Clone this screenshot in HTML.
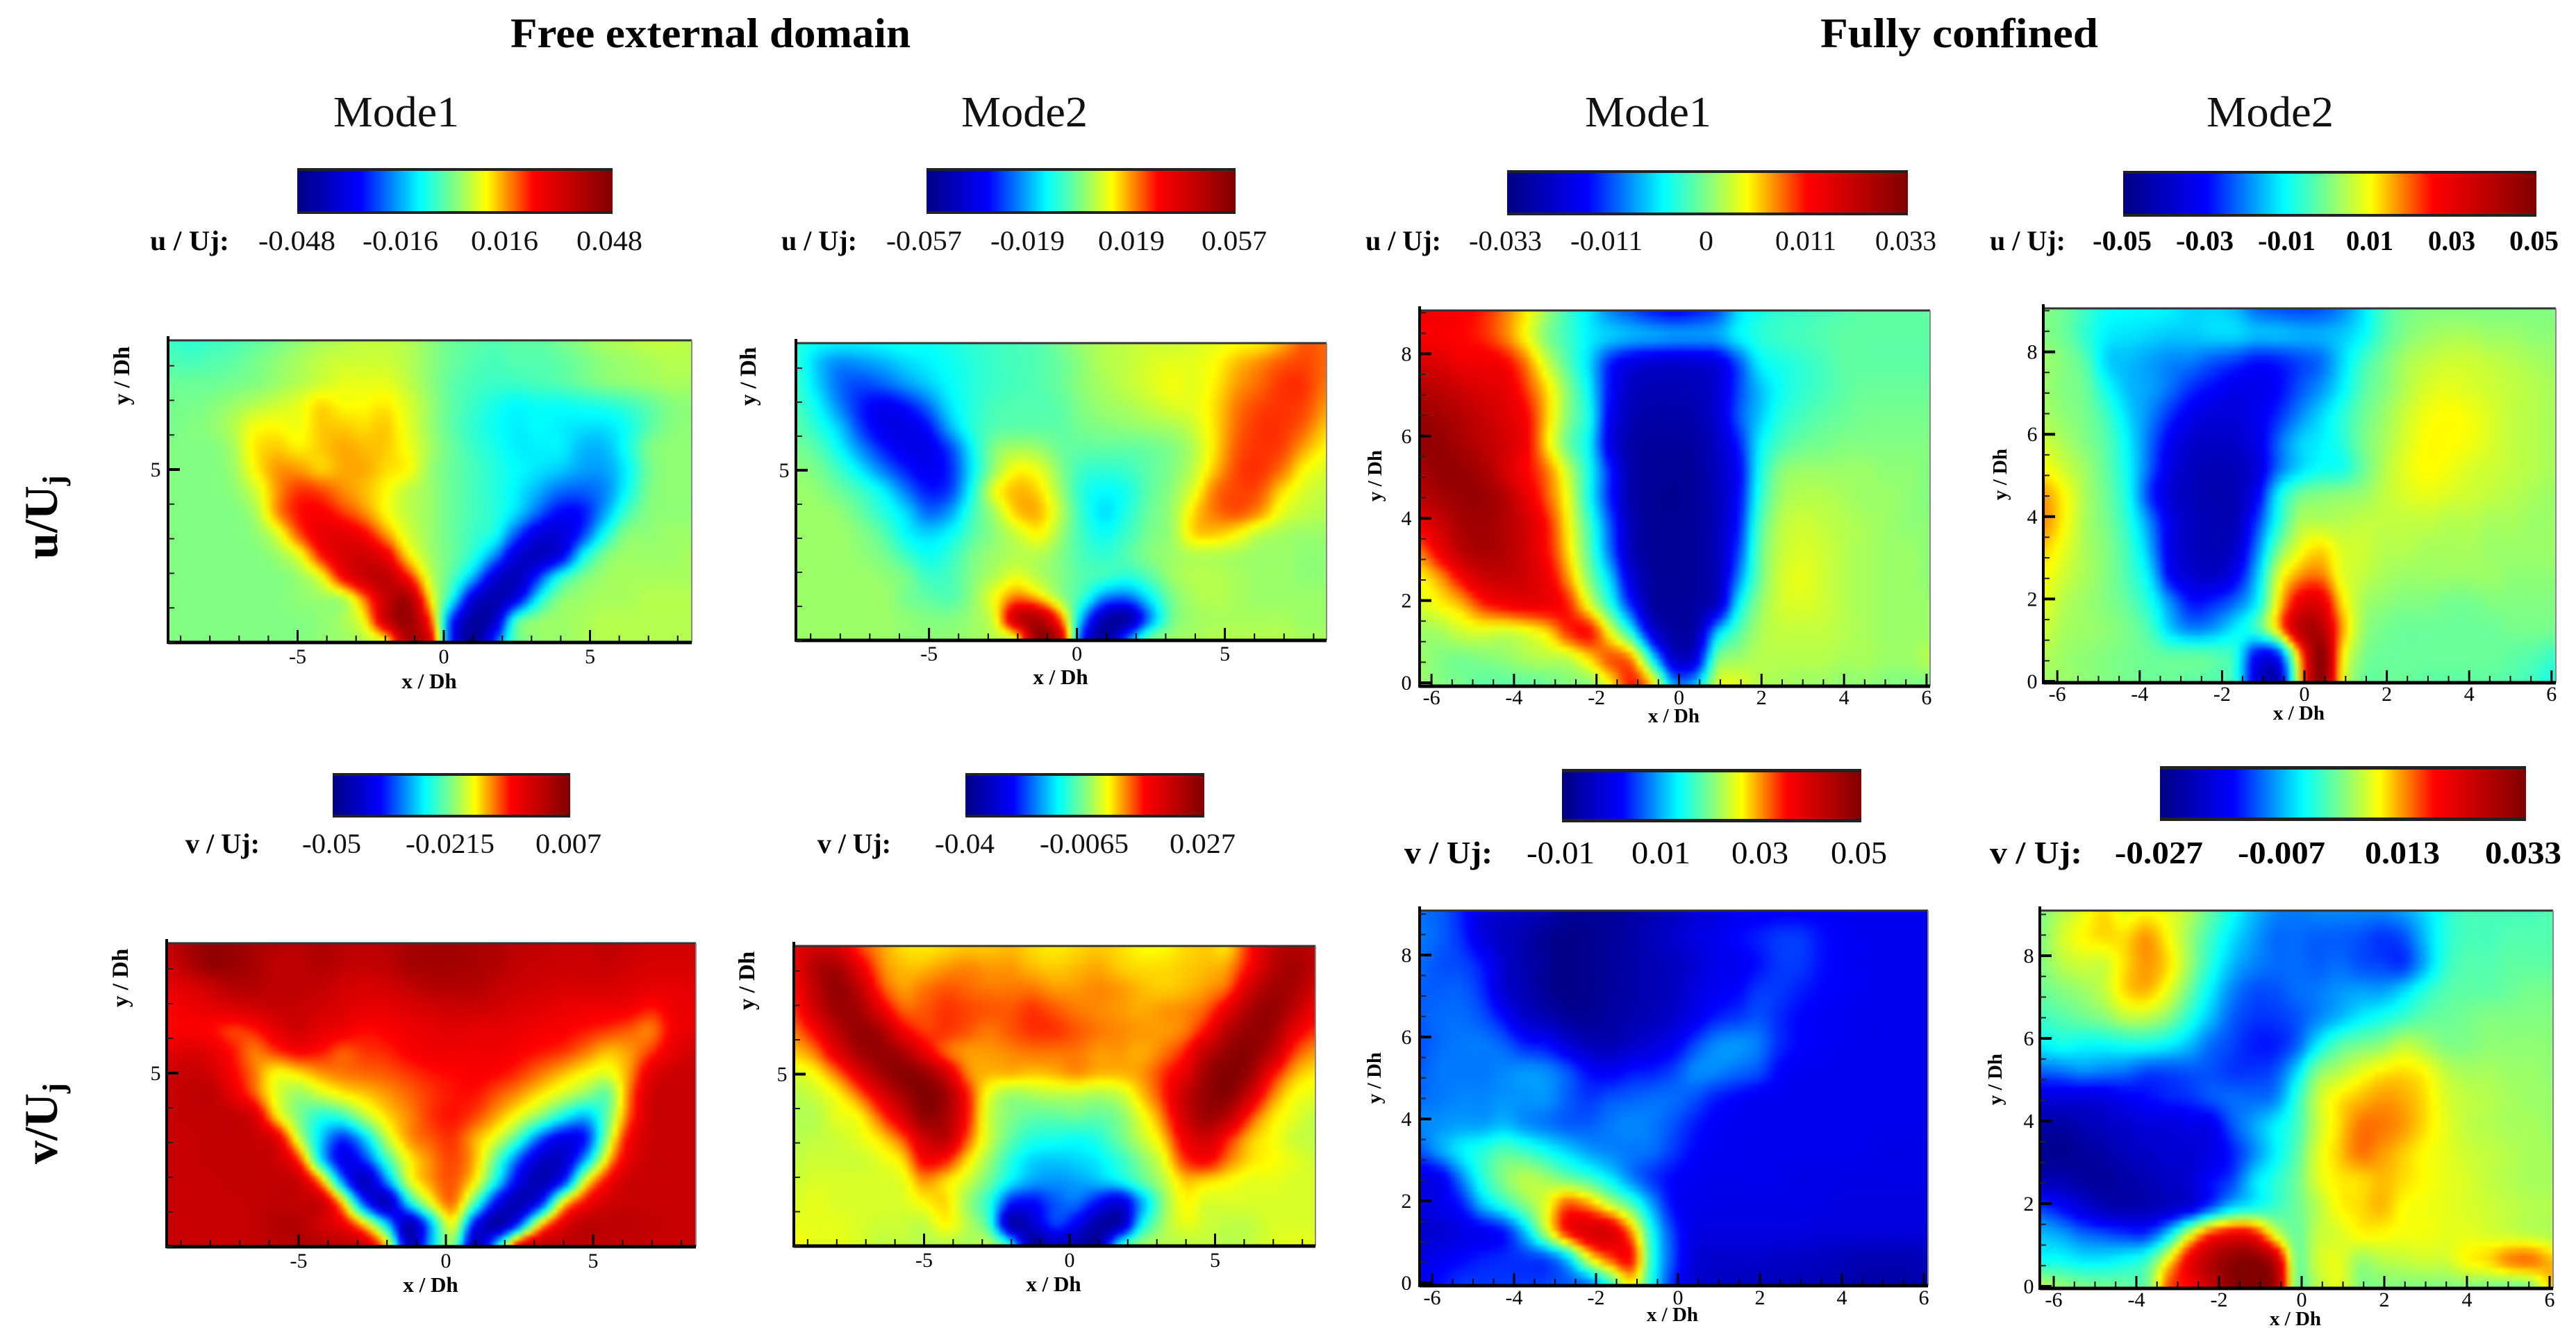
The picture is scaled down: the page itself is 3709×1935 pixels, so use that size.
<!DOCTYPE html>
<html lang="en">
<head>
<meta charset="utf-8">
<title>POD modes: free external domain and fully confined</title>
<style>
html,body{margin:0;padding:0;background:#fff;width:3709px;height:1935px;overflow:hidden}
svg{display:block}
text{font-family:"Liberation Serif","DejaVu Serif",serif;fill:#000}
.head{font-weight:bold;font-size:60px}
.mode{font-size:62px;fill:#111}
.cb{font-size:40px;fill:#111}
.cbb{font-size:40px;font-weight:bold}
.row{font-size:68px;font-weight:bold}
</style>
</head>
<body>
<svg id="figure" xmlns="http://www.w3.org/2000/svg" width="3709" height="1935" viewBox="0 0 3709 1935">
<defs>
<linearGradient id="jet" x1="0" x2="1" y1="0" y2="0">
<stop offset="0" stop-color="#000082"/><stop offset=".2" stop-color="#0000ff"/><stop offset=".39" stop-color="#00ffff"/><stop offset=".5" stop-color="#82ff82"/><stop offset=".6" stop-color="#ffff00"/><stop offset=".75" stop-color="#ff0000"/><stop offset="1" stop-color="#800000"/>
</linearGradient>
<filter id="soften" color-interpolation-filters="sRGB"><feGaussianBlur stdDeviation="3"/></filter>
</defs>

<text class="head" x="735" y="68" textLength="576" lengthAdjust="spacingAndGlyphs">Free external domain</text>
<text class="head" x="2621" y="68" textLength="400" lengthAdjust="spacingAndGlyphs">Fully confined</text>
<text class="mode" x="480" y="182" textLength="181" lengthAdjust="spacingAndGlyphs">Mode1</text>
<text class="mode" x="1384" y="182" textLength="182" lengthAdjust="spacingAndGlyphs">Mode2</text>
<text class="mode" x="2282" y="182" textLength="182" lengthAdjust="spacingAndGlyphs">Mode1</text>
<text class="mode" x="3177" y="182" textLength="183" lengthAdjust="spacingAndGlyphs">Mode2</text>

<text class="row" transform="translate(82,805) rotate(-90)">u/U<tspan font-size="44" dy="10">j</tspan></text>
<text class="row" transform="translate(82,1676) rotate(-90)">v/U<tspan font-size="44" dy="10">j</tspan></text>

<!-- colour bars, u row -->
<g>
<rect x="428" y="242" width="454" height="66" fill="url(#jet)"/><rect x="428" y="242" width="454" height="4" fill="#222"/><rect x="428" y="304" width="454" height="4" fill="#222"/>
<text class="cbb" x="216" y="360" textLength="114" lengthAdjust="spacingAndGlyphs">u / Uj:</text>
<text class="cb" x="372" y="360" textLength="111" lengthAdjust="spacingAndGlyphs">-0.048</text><text class="cb" x="522" y="360" textLength="109" lengthAdjust="spacingAndGlyphs">-0.016</text><text class="cb" x="678" y="360" textLength="97" lengthAdjust="spacingAndGlyphs">0.016</text><text class="cb" x="830" y="360" textLength="95" lengthAdjust="spacingAndGlyphs">0.048</text>
</g>
<g>
<rect x="1334" y="242" width="445" height="66" fill="url(#jet)"/><rect x="1334" y="242" width="445" height="4" fill="#222"/><rect x="1334" y="304" width="445" height="4" fill="#222"/>
<text class="cbb" x="1125" y="360" textLength="109" lengthAdjust="spacingAndGlyphs">u / Uj:</text>
<text class="cb" x="1276" y="360" textLength="109" lengthAdjust="spacingAndGlyphs">-0.057</text><text class="cb" x="1426" y="360" textLength="107" lengthAdjust="spacingAndGlyphs">-0.019</text><text class="cb" x="1581" y="360" textLength="96" lengthAdjust="spacingAndGlyphs">0.019</text><text class="cb" x="1730" y="360" textLength="94" lengthAdjust="spacingAndGlyphs">0.057</text>
</g>
<g>
<rect x="2170" y="245" width="577" height="65" fill="url(#jet)"/><rect x="2170" y="245" width="577" height="4" fill="#222"/><rect x="2170" y="306" width="577" height="4" fill="#222"/>
<text class="cbb" x="1966" y="360" textLength="109" lengthAdjust="spacingAndGlyphs">u / Uj:</text>
<text class="cb" x="2115" y="360" textLength="105" lengthAdjust="spacingAndGlyphs">-0.033</text><text class="cb" x="2261" y="360" textLength="104" lengthAdjust="spacingAndGlyphs">-0.011</text><text class="cb" x="2446" y="360" textLength="21" lengthAdjust="spacingAndGlyphs">0</text><text class="cb" x="2556" y="360" textLength="88" lengthAdjust="spacingAndGlyphs">0.011</text><text class="cb" x="2700" y="360" textLength="88" lengthAdjust="spacingAndGlyphs">0.033</text>
</g>
<g>
<rect x="3057" y="246" width="595" height="66" fill="url(#jet)"/><rect x="3057" y="246" width="595" height="4" fill="#222"/><rect x="3057" y="308" width="595" height="4" fill="#222"/>
<text class="cbb" x="2865" y="360" textLength="109" lengthAdjust="spacingAndGlyphs">u / Uj:</text>
<text class="cbb" x="3013" y="360" textLength="85" lengthAdjust="spacingAndGlyphs">-0.05</text><text class="cbb" x="3133" y="360" textLength="83" lengthAdjust="spacingAndGlyphs">-0.03</text><text class="cbb" x="3251" y="360" textLength="83" lengthAdjust="spacingAndGlyphs">-0.01</text><text class="cbb" x="3378" y="360" textLength="68" lengthAdjust="spacingAndGlyphs">0.01</text><text class="cbb" x="3496" y="360" textLength="68" lengthAdjust="spacingAndGlyphs">0.03</text><text class="cbb" x="3613" y="360" textLength="71" lengthAdjust="spacingAndGlyphs">0.05</text>
</g>

<!-- colour bars, v row -->
<g>
<rect x="479" y="1113" width="342" height="64" fill="url(#jet)"/><rect x="479" y="1113" width="342" height="4" fill="#222"/><rect x="479" y="1173" width="342" height="4" fill="#222"/>
<text class="cbb" x="267" y="1228" textLength="107" lengthAdjust="spacingAndGlyphs">v / Uj:</text>
<text class="cb" x="435" y="1228" textLength="85" lengthAdjust="spacingAndGlyphs">-0.05</text><text class="cb" x="584" y="1228" textLength="128" lengthAdjust="spacingAndGlyphs">-0.0215</text><text class="cb" x="771" y="1228" textLength="95" lengthAdjust="spacingAndGlyphs">0.007</text>
</g>
<g>
<rect x="1390" y="1113" width="344" height="64" fill="url(#jet)"/><rect x="1390" y="1113" width="344" height="4" fill="#222"/><rect x="1390" y="1173" width="344" height="4" fill="#222"/>
<text class="cbb" x="1177" y="1228" textLength="106" lengthAdjust="spacingAndGlyphs">v / Uj:</text>
<text class="cb" x="1346" y="1228" textLength="86" lengthAdjust="spacingAndGlyphs">-0.04</text><text class="cb" x="1497" y="1228" textLength="128" lengthAdjust="spacingAndGlyphs">-0.0065</text><text class="cb" x="1684" y="1228" textLength="95" lengthAdjust="spacingAndGlyphs">0.027</text>
</g>
<g>
<rect x="2249" y="1107" width="431" height="77" fill="url(#jet)"/><rect x="2249" y="1107" width="431" height="5" fill="#222"/><rect x="2249" y="1179" width="431" height="5" fill="#222"/>
<text class="cbb" style="font-size:46px" x="2022" y="1243" textLength="127" lengthAdjust="spacingAndGlyphs">v / Uj:</text>
<text class="cbb" style="font-size:46px;font-weight:normal" x="2198" y="1243" textLength="98" lengthAdjust="spacingAndGlyphs">-0.01</text><text class="cbb" style="font-size:46px;font-weight:normal" x="2349" y="1243" textLength="85" lengthAdjust="spacingAndGlyphs">0.01</text><text class="cbb" style="font-size:46px;font-weight:normal" x="2493" y="1243" textLength="82" lengthAdjust="spacingAndGlyphs">0.03</text><text class="cbb" style="font-size:46px;font-weight:normal" x="2636" y="1243" textLength="81" lengthAdjust="spacingAndGlyphs">0.05</text>
</g>
<g>
<rect x="3110" y="1103" width="527" height="79" fill="url(#jet)"/><rect x="3110" y="1103" width="527" height="5" fill="#222"/><rect x="3110" y="1177" width="527" height="5" fill="#222"/>
<text class="cbb" style="font-size:46px" x="2865" y="1243" textLength="133" lengthAdjust="spacingAndGlyphs">v / Uj:</text>
<text class="cbb" style="font-size:46px" x="3045" y="1243" textLength="127" lengthAdjust="spacingAndGlyphs">-0.027</text><text class="cbb" style="font-size:46px" x="3222" y="1243" textLength="126" lengthAdjust="spacingAndGlyphs">-0.007</text><text class="cbb" style="font-size:46px" x="3405" y="1243" textLength="108" lengthAdjust="spacingAndGlyphs">0.013</text><text class="cbb" style="font-size:46px" x="3578" y="1243" textLength="110" lengthAdjust="spacingAndGlyphs">0.033</text>
</g>
</svg>

<script>
// Heatmap values: position on each panel's colour bar, 0 (minimum) to 100 (maximum),
// read from the picture on a regular grid, top row first, left column first.
const freeUMode1Values = [
[44,43,44,45,47,49,51,53,54,55,55,54,51,48,47,46,47,47,49,51,53,54,55,55,54],
[46,45,46,47,49,51,53,55,56,56,56,54,51,48,46,45,46,46,47,49,51,52,53,54,54],
[48,48,48,49,50,52,54,56,58,58,58,55,51,47,45,44,44,45,46,48,50,51,52,53,53],
[49,49,50,52,54,56,58,62,60,60,61,57,52,47,44,41,39,40,40,41,42,44,47,50,51],
[49,50,51,54,59,60,59,63,63,62,63,58,52,47,43,40,38,39,38,37,37,40,46,50,51],
[50,50,50,53,61,63,61,63,65,64,63,59,53,48,44,41,38,38,38,34,34,40,49,51,51],
[50,50,50,52,60,66,66,63,65,65,62,60,52,48,45,42,39,37,35,32,32,38,48,51,51],
[50,50,50,51,56,66,72,71,67,64,60,55,52,48,45,42,38,33,28,27,30,39,49,51,51],
[50,50,50,50,53,66,74,76,72,67,60,55,52,48,45,42,36,27,20,21,32,44,50,51,51],
[50,50,50,50,51,57,70,79,80,76,66,57,52,48,44,40,26,15,14,24,40,50,51,52,52],
[50,50,50,50,50,52,58,73,82,84,78,62,53,48,42,30,14,10,17,38,49,52,52,52,53],
[50,50,50,50,50,50,52,58,75,85,88,75,56,46,33,14,9,24,41,49,52,53,53,53,53],
[50,50,50,50,50,50,51,52,54,68,86,92,62,40,15,7,17,39,50,52,53,53,54,54,54],
[50,50,50,50,50,50,50,51,53,60,85,95,72,25,5,12,44,51,52,53,54,54,54,54,54],
[50,50,50,50,50,50,50,51,52,54,60,90,82,22,3,25,47,51,52,53,54,54,54,54,54]
];
const freeUMode2Values = [
[42,39,38,38,39,40,40,41,43,44,45,46,49,52,54,55,56,56,57,58,60,61,65,70,69],
[43,35,30,31,33,36,38,40,42,44,45,46,48,51,54,55,57,58,58,60,64,67,70,71,69],
[44,36,28,25,27,31,35,39,42,44,45,46,48,51,53,55,57,59,58,61,66,69,72,72,68],
[45,39,30,22,18,21,28,37,42,45,46,46,47,50,52,53,55,57,58,62,68,71,72,71,66],
[47,42,35,24,17,16,21,33,42,46,47,47,47,49,50,51,52,53,56,62,69,72,72,69,63],
[49,46,39,30,22,17,17,25,39,50,53,52,48,47,47,47,48,50,54,62,70,72,71,65,60],
[51,49,44,37,29,22,18,23,38,52,60,58,50,44,43,44,47,50,55,64,71,72,68,60,57],
[52,51,48,44,38,29,22,25,41,58,64,62,52,42,39,41,47,51,58,68,71,70,62,57,55],
[52,52,51,47,42,36,28,32,44,53,63,64,54,43,37,42,48,52,62,68,70,66,58,55,54],
[52,52,52,50,46,39,36,39,46,51,56,60,52,44,40,44,49,52,62,63,60,55,53,52,52],
[52,52,52,51,49,44,40,43,49,52,54,54,50,45,43,46,50,52,54,54,53,52,52,51,51],
[52,52,52,52,51,49,44,45,50,54,58,54,50,46,44,42,46,52,54,54,53,52,52,51,51],
[52,52,52,52,52,49,47,46,51,59,68,63,52,43,30,28,38,49,53,54,53,52,52,52,52],
[52,52,52,52,52,51,50,50,52,58,85,90,68,32,8,6,30,48,52,53,53,53,53,52,52],
[52,52,52,52,52,51,51,51,52,54,59,98,84,22,3,28,48,52,53,54,54,54,54,53,53]
];
const confinedUMode1Values = [
[78,78,76,73,68,61,52,44,37,30,26,22,20,22,26,36,41,43,44,45,46,47,47,47,47],
[76,76,75,73,68,60,50,44,38,35,33,32,31,31,32,38,42,44,45,46,47,47,47,47,47],
[83,82,78,78,76,68,56,46,36,22,15,13,12,13,15,26,38,41,43,45,47,47,47,47,47],
[90,88,85,82,80,72,62,50,38,20,10,8,8,9,13,25,34,40,43,45,47,48,48,48,48],
[95,93,90,86,82,76,63,50,40,18,8,6,6,7,13,26,35,42,45,47,48,49,49,49,49],
[96,96,92,88,84,77,62,48,38,16,6,4,4,5,11,22,38,45,48,49,50,50,50,50,50],
[92,96,96,92,84,76,68,55,40,22,6,4,3,4,10,19,40,50,52,52,52,52,51,51,50],
[88,92,95,95,90,80,70,58,40,22,6,3,2,4,9,20,42,52,54,54,53,52,52,51,50],
[78,85,92,94,90,84,74,60,44,26,8,3,3,4,9,22,45,54,56,55,54,53,52,51,51],
[68,78,88,92,90,84,75,62,46,28,9,3,3,4,9,25,47,55,57,56,54,53,52,52,51],
[60,66,76,84,86,84,78,66,50,35,14,4,3,4,9,30,48,56,58,56,54,53,52,52,51],
[57,60,64,72,76,78,78,73,58,42,22,5,4,5,12,38,51,56,57,56,54,53,52,52,52],
[52,53,56,57,56,58,62,72,74,58,40,14,5,8,34,46,53,55,55,55,54,53,52,52,52],
[52,50,49,50,51,53,54,55,62,70,66,38,12,16,48,52,54,54,54,54,53,53,52,52,54],
[52,50,49,47,47,47,48,50,50,60,74,62,32,35,56,58,54,53,52,52,51,51,50,50,49]
];
const confinedUMode2Values = [
[50,48,44,40,39,39,38,36,36,34,28,26,25,26,30,37,45,49,50,50,50,50,50,50,50],
[50,48,43,38,37,36,35,35,36,36,34,34,33,33,35,39,46,50,52,53,53,52,52,51,51],
[52,50,46,36,34,32,30,29,26,24,21,22,25,28,36,44,49,53,55,56,56,55,54,53,52],
[52,50,48,40,34,32,28,23,20,17,17,20,26,31,38,46,50,54,57,58,57,56,55,54,53],
[53,51,49,44,36,30,23,17,14,14,17,23,30,36,42,48,52,56,59,60,59,57,55,54,53],
[56,53,50,46,38,28,18,12,11,12,16,27,35,38,42,49,53,57,60,60,59,57,55,54,53],
[60,56,52,47,39,27,15,10,8,9,14,28,36,40,41,48,54,58,60,59,57,56,55,54,53],
[66,60,53,48,40,24,13,9,7,8,18,38,48,50,51,52,55,57,58,57,56,55,54,53,52],
[67,60,53,49,42,30,16,10,8,9,24,41,53,54,54,55,55,55,55,54,54,53,53,52,52],
[63,58,53,50,44,33,16,10,8,12,29,48,58,62,57,56,54,54,53,53,53,52,52,52,52],
[60,56,53,50,45,37,19,13,11,18,34,56,66,68,58,55,53,52,52,52,52,52,51,51,51],
[58,54,52,50,47,41,30,21,23,28,38,60,78,80,62,53,51,50,50,49,49,50,50,50,50],
[56,53,52,51,49,45,35,30,32,38,44,62,88,90,66,52,49,48,48,48,48,48,49,49,49],
[54,52,51,50,49,48,47,47,46,42,20,22,65,98,62,50,48,48,48,48,48,48,47,46,44],
[52,52,51,50,49,48,48,47,46,42,14,8,60,98,60,48,48,48,47,47,47,47,46,44,40]
];
const freeVMode1Values = [
[86,92,96,95,92,90,89,91,89,88,89,92,93,93,92,91,88,87,86,86,88,86,84,84,84],
[84,90,96,95,92,88,88,90,88,87,88,92,93,93,92,90,87,86,85,85,86,84,83,83,83],
[80,82,86,90,90,88,88,87,84,83,84,87,90,90,90,87,85,84,83,83,83,82,80,80,81],
[76,78,80,82,84,86,86,84,82,80,80,82,84,85,85,84,82,81,79,78,78,77,74,78,80],
[75,76,75,72,74,80,84,80,78,75,76,78,80,81,80,80,79,77,76,74,72,70,68,77,80],
[80,82,80,74,68,72,76,74,70,72,73,76,78,78,78,78,76,74,72,68,64,66,72,80,84],
[85,86,84,76,68,60,62,66,68,69,70,72,74,75,76,75,72,68,64,60,58,66,80,85,86],
[86,87,88,80,70,58,52,56,60,63,66,69,72,74,74,70,66,61,56,51,48,68,84,86,86],
[86,87,87,87,82,62,50,42,44,54,62,67,72,74,71,65,58,50,40,34,48,70,85,86,86],
[86,86,87,87,86,80,56,36,24,36,55,66,70,72,65,57,44,27,17,22,52,76,85,86,86],
[86,86,87,87,87,85,72,38,17,24,44,60,67,71,64,46,26,12,12,33,62,80,86,86,86],
[86,86,86,87,87,87,85,66,30,10,30,56,66,70,60,38,16,8,22,58,76,85,86,86,86],
[86,86,86,86,87,88,87,85,62,25,10,38,58,68,45,18,8,22,60,76,84,86,86,86,86],
[86,86,86,86,87,90,90,84,78,62,36,8,34,58,20,6,26,62,80,88,88,88,87,86,86],
[86,86,86,86,87,88,90,90,88,85,62,10,34,50,8,38,80,88,88,88,87,87,86,86,86]
];
const freeVMode2Values = [
[80,84,82,72,66,62,61,62,63,63,64,62,61,62,63,62,60,60,62,63,62,74,86,90,88],
[78,90,92,80,68,64,64,66,67,66,66,64,63,64,65,63,62,62,63,64,66,76,88,93,88],
[75,88,96,88,72,66,68,70,69,68,68,68,66,66,67,66,64,63,64,66,70,84,93,92,84],
[72,84,94,93,80,70,70,72,71,70,70,72,70,68,67,66,65,66,67,70,80,92,96,88,78],
[68,76,88,96,92,78,72,72,70,68,70,72,72,70,68,67,66,66,68,76,90,96,94,80,72],
[63,68,80,92,96,92,80,70,66,66,67,68,68,68,66,66,65,68,74,88,96,98,88,72,66],
[57,60,68,80,92,98,96,84,68,64,64,63,64,66,64,64,66,72,80,94,100,94,76,65,61],
[54,56,60,68,80,92,100,94,74,58,52,53,54,54,53,55,63,72,86,96,98,84,68,60,58],
[54,54,58,60,70,82,96,92,74,56,50,47,47,48,47,50,58,68,84,94,88,72,62,58,55],
[54,55,56,58,62,70,84,88,70,56,47,42,41,40,42,48,55,63,78,84,74,64,60,56,55],
[55,56,56,56,58,62,76,74,62,52,42,36,35,36,38,43,50,58,72,76,68,62,60,58,56],
[56,57,57,57,57,58,66,62,56,48,38,32,31,32,34,38,46,54,63,62,60,58,58,57,57],
[57,58,57,57,57,57,60,62,52,42,22,20,26,28,20,14,32,50,60,57,57,57,57,57,57],
[58,58,58,57,56,56,55,60,54,44,8,12,24,18,6,8,38,52,58,56,55,55,57,57,57],
[60,58,58,57,55,55,54,54,53,54,40,3,8,6,4,40,52,54,54,55,54,55,57,58,58]
];
const confinedVMode1Values = [
[28,27,22,14,12,10,8,4,3,3,5,8,10,13,15,17,18,19,19,19,18,17,17,17,17],
[29,27,23,15,10,7,3,1,2,4,6,9,12,15,17,20,22,24,24,21,19,18,17,17,17],
[28,26,25,21,12,7,3,1,2,4,6,8,10,13,17,18,21,24,24,21,19,18,17,17,17],
[27,27,27,23,13,8,3,1,2,4,6,8,10,15,18,20,24,24,22,20,19,18,17,17,17],
[27,28,28,26,20,12,8,4,3,5,7,9,12,17,22,24,26,23,20,19,18,17,17,17,17],
[26,28,29,29,27,22,20,14,9,8,11,14,18,25,30,31,29,23,20,19,18,17,17,17,17],
[27,29,29,29,30,31,30,26,20,18,21,22,25,30,30,28,26,20,18,18,17,17,17,17,17],
[28,29,30,30,31,31,31,27,24,26,27,28,28,26,22,20,18,18,17,17,17,17,17,17,17],
[30,31,32,32,34,31,29,27,27,29,30,29,26,22,19,18,18,17,17,17,17,17,17,17,17],
[26,32,38,42,46,44,40,36,32,30,29,28,24,20,18,18,17,17,17,17,17,17,16,16,16],
[16,18,30,42,50,54,52,48,44,38,30,24,20,18,17,17,17,17,16,16,16,16,16,16,16],
[15,17,22,34,42,50,58,70,66,56,46,32,20,17,16,16,16,16,16,16,15,15,15,15,15],
[12,13,16,18,22,35,55,74,82,82,66,40,24,16,15,15,15,15,15,14,14,14,14,14,14],
[15,18,20,22,23,24,26,36,58,70,74,42,25,14,12,12,12,11,11,10,9,8,8,8,9],
[19,21,24,24,24,24,25,26,28,42,60,40,22,13,11,10,9,9,8,8,7,6,6,6,8]
];
const confinedVMode2Values = [
[50,54,58,62,58,60,58,54,47,40,34,30,29,30,30,30,30,32,36,42,45,45,45,45,46],
[50,56,60,62,62,66,60,52,44,37,32,28,28,27,27,26,24,26,34,42,45,45,46,46,46],
[50,54,56,56,62,66,62,52,42,34,30,28,28,27,28,26,25,24,33,43,46,46,47,47,47],
[48,50,52,55,62,64,58,48,38,30,26,26,28,29,31,32,32,36,42,46,47,47,48,49,49],
[44,46,48,50,54,54,50,42,34,27,24,24,26,30,34,38,41,44,47,48,49,50,50,50,50],
[38,40,39,39,40,40,38,34,28,25,22,22,27,38,46,49,51,55,53,50,50,51,51,51,51],
[27,28,30,29,28,25,25,26,26,24,24,26,36,50,54,58,61,62,60,55,53,53,52,52,51],
[14,14,14,15,18,20,22,23,26,28,28,30,42,55,61,64,66,65,62,57,55,54,53,52,52],
[6,5,8,10,12,14,14,16,17,26,32,38,44,55,62,68,68,66,62,58,55,54,53,53,52],
[3,2,4,6,9,11,13,13,16,22,30,38,46,57,63,68,66,63,60,58,56,55,54,53,53],
[8,8,5,4,6,8,11,13,20,25,36,42,48,57,61,62,64,62,60,58,57,55,54,53,53],
[24,20,14,9,7,8,11,15,26,36,40,44,48,54,60,62,64,60,59,58,57,56,55,54,54],
[34,32,28,26,24,24,36,56,72,78,76,58,48,55,57,60,60,59,59,58,58,57,56,55,54],
[40,40,38,38,40,44,60,78,90,97,99,88,50,56,58,52,54,55,56,56,60,62,67,68,64],
[56,52,50,49,48,48,70,76,86,98,100,94,50,54,58,50,50,50,50,50,50,49,48,50,64]
];

// Tick labels
const freeXTicks = [-5, 0, 5];
const freeYTicks = [5];
const confinedXTicks = [-6, -4, -2, 0, 2, 4, 6];
const confinedYTicks = [0, 2, 4, 6, 8];

// Colour ramp
const rampPositions = [0, 20, 39, 50, 60, 75, 100];
const rampReds   = [0, 0, 0, 130, 255, 255, 128];
const rampGreens = [0, 0, 255, 255, 255, 0, 0];
const rampBlues  = [130, 255, 255, 130, 0, 0, 0];

const NS = 'http://www.w3.org/2000/svg';
const figure = document.getElementById('figure');
const SUBDIV = 4;

function colourFor(v) {
  const t = Math.max(0, Math.min(100, v));
  let k = 0;
  while (k < rampPositions.length - 2 && t > rampPositions[k + 1]) k++;
  const f = (t - rampPositions[k]) / (rampPositions[k + 1] - rampPositions[k]);
  const mix = (a) => Math.round(a[k] + (a[k + 1] - a[k]) * f);
  return 'rgb(' + mix(rampReds) + ',' + mix(rampGreens) + ',' + mix(rampBlues) + ')';
}

function cubicWeights(t) {
  return [
    0.5 * (-t + 2 * t * t - t * t * t),
    0.5 * (2 - 5 * t * t + 3 * t * t * t),
    0.5 * (t + 4 * t * t - 3 * t * t * t),
    0.5 * (-t * t + t * t * t)
  ];
}

function sample(values, gx, gy) {
  const rows = values.length, cols = values[0].length;
  const fx = gx * (cols - 1), fy = gy * (rows - 1);
  const i = Math.min(cols - 2, Math.floor(fx)), j = Math.min(rows - 2, Math.floor(fy));
  const wx = cubicWeights(fx - i), wy = cubicWeights(fy - j);
  let total = 0;
  for (let b = 0; b < 4; b++) {
    const row = values[Math.max(0, Math.min(rows - 1, j - 1 + b))];
    for (let a = 0; a < 4; a++) {
      total += wx[a] * wy[b] * row[Math.max(0, Math.min(cols - 1, i - 1 + a))];
    }
  }
  return total;
}

function node(tag, parent) {
  const el = document.createElementNS(NS, tag);
  parent.appendChild(el);
  return el;
}

function drawLine(parent, x1, y1, x2, y2, colour, width) {
  const l = node('line', parent);
  l.setAttribute('x1', x1); l.setAttribute('y1', y1);
  l.setAttribute('x2', x2); l.setAttribute('y2', y2);
  l.setAttribute('stroke', colour); l.setAttribute('stroke-width', width);
  return l;
}

function drawLabel(parent, x, y, str, size, bold) {
  const t = node('text', parent);
  t.setAttribute('x', x); t.setAttribute('y', y);
  t.setAttribute('text-anchor', 'middle');
  t.setAttribute('font-size', size);
  if (bold) t.setAttribute('font-weight', 'bold');
  t.textContent = str;
  return t;
}

function drawPanel(id, values, box, xTicks, yTicks, minorStep, type) {
  const xScale = (v) => box.xZero + box.xUnit * v;
  const yScale = (v) => box.yZero - box.yUnit * v;

  const group = node('g', figure);
  
  

  const clip = node('clipPath', group);
  clip.setAttribute('id', 'clip-' + id);
  const clipRect = node('rect', clip);
  clipRect.setAttribute('x', box.left); clipRect.setAttribute('y', box.top);
  clipRect.setAttribute('width', box.right - box.left); clipRect.setAttribute('height', box.bottom - box.top);

  const clipped = node('g', group);
  clipped.setAttribute('clip-path', 'url(#clip-' + id + ')');
  const cells = node('g', clipped);
  
  
  cells.setAttribute('filter', 'url(#soften)');
  cells.setAttribute('shape-rendering', 'crispEdges');

  const nx = (values[0].length - 1) * SUBDIV, ny = (values.length - 1) * SUBDIV;
  const w = box.right - box.left, h = box.bottom - box.top;
  for (let j = 0; j < ny; j++) {
    for (let i = 0; i < nx; i++) {
      const v = sample(values, (i + 0.5) / nx, (j + 0.5) / ny);
      let x0 = Math.floor(box.left + w * i / nx), x1 = Math.ceil(box.left + w * (i + 1) / nx);
      let y0 = Math.floor(box.top + h * j / ny), y1 = Math.ceil(box.top + h * (j + 1) / ny);
      if (i === 0) x0 -= 24;
      if (i === nx - 1) x1 += 24;
      if (j === 0) y0 -= 24;
      if (j === ny - 1) y1 += 24;
      const cell = node('rect', cells);
      
      
      cell.setAttribute('x', x0); cell.setAttribute('y', y0);
      cell.setAttribute('width', x1 - x0); cell.setAttribute('height', y1 - y0);
      cell.setAttribute('fill', colourFor(v));
    }
  }

  const axes = node('g', group);
  
  

  const topEdge = drawLine(axes, box.left, box.top, box.right, box.top, '#333', 3);
  
  const rightEdge = drawLine(axes, box.right, box.top, box.right, box.bottom, '#888', 2);
  
  const leftAxis = drawLine(axes, box.left, box.top - 6, box.left, box.bottom + 2, '#000', 4);
  
  const bottomAxis = drawLine(axes, box.left, box.bottom, box.right, box.bottom, '#000', 5);
  

  const xLow = Math.ceil((box.left - box.xZero) / box.xUnit / minorStep);
  const xHigh = Math.floor((box.right - box.xZero) / box.xUnit / minorStep);
  for (let k = xLow; k <= xHigh; k++) {
    const tick = drawLine(axes, xScale(k * minorStep), box.bottom, xScale(k * minorStep), box.bottom - 10, '#000', 2);
    
  }
  const yLow = Math.ceil((box.yZero - box.bottom) / box.yUnit / minorStep);
  const yHigh = Math.floor((box.yZero - box.top) / box.yUnit / minorStep);
  for (let k = yLow; k <= yHigh; k++) {
    const tick = drawLine(axes, box.left, yScale(k * minorStep), box.left + 9, yScale(k * minorStep), '#222', 2);
    
  }
  xTicks.forEach((v) => {
    const tick = drawLine(axes, xScale(v), box.bottom, xScale(v), box.bottom - 18, '#000', 3);
    
    const label = drawLabel(axes, xScale(v), box.xLabelY, String(v), 30, false);
    
  });
  yTicks.forEach((v) => {
    const tick = drawLine(axes, box.left, yScale(v), box.left + 17, yScale(v), '#000', 4);
    
    const label = drawLabel(axes, box.yLabelX, yScale(v) + 10, String(v), 30, false);
    
  });

  const xTitle = drawLabel(axes, box.xTitleX, box.xTitleY, 'x / Dh', type === 'free' ? 31 : 29, true);
  
  const yTitle = drawLabel(axes, 0, 0, 'y / Dh', type === 'free' ? 33 : 29, true);
  
  yTitle.removeAttribute('x');
  yTitle.removeAttribute('y');
  yTitle.setAttribute('transform', 'translate(' + box.yTitleX + ',' + box.yTitleY + ') rotate(-90)');
}

drawPanel('free-u-mode1', freeUMode1Values,
  {left:242,right:996,top:490,bottom:925,xZero:639,xUnit:42.1,yZero:925,yUnit:49.8,xLabelY:955,yLabelX:224,xTitleX:618,xTitleY:991,yTitleX:186,yTitleY:541},
  freeXTicks, freeYTicks, 1, 'free');
drawPanel('free-u-mode2', freeUMode2Values,
  {left:1146,right:1910,top:494,bottom:922,xZero:1550.6,xUnit:42.6,yZero:922,yUnit:49,xLabelY:951,yLabelX:1129,xTitleX:1527,xTitleY:985,yTitleX:1088,yTitleY:542},
  freeXTicks, freeYTicks, 1, 'free');
drawPanel('confined-u-mode1', confinedUMode1Values,
  {left:2044,right:2779,top:447,bottom:988,xZero:2417.5,xUnit:59.4,yZero:983,yUnit:59.2,xLabelY:1014,yLabelX:2025,xTitleX:2410,xTitleY:1040,yTitleX:1989,yTitleY:685},
  confinedXTicks, confinedYTicks, 0.5, 'confined');
drawPanel('confined-u-mode2', confinedUMode2Values,
  {left:2942,right:3680,top:444,bottom:983,xZero:3318,xUnit:59.3,yZero:981,yUnit:59.3,xLabelY:1009,yLabelX:2926,xTitleX:3310,xTitleY:1036,yTitleX:2889,yTitleY:683},
  confinedXTicks, confinedYTicks, 0.5, 'confined');
drawPanel('free-v-mode1', freeVMode1Values,
  {left:240,right:1002,top:1358,bottom:1795,xZero:642,xUnit:42.4,yZero:1795,yUnit:50,xLabelY:1825,yLabelX:224,xTitleX:620,xTitleY:1860,yTitleX:184,yTitleY:1408},
  freeXTicks, freeYTicks, 1, 'free');
drawPanel('free-v-mode2', freeVMode2Values,
  {left:1143,right:1894,top:1362,bottom:1794,xZero:1540,xUnit:41.9,yZero:1794,yUnit:49.5,xLabelY:1824,yLabelX:1126,xTitleX:1517,xTitleY:1859,yTitleX:1086,yTitleY:1412},
  freeXTicks, freeYTicks, 1, 'free');
drawPanel('confined-v-mode1', confinedVMode1Values,
  {left:2044,right:2776,top:1311,bottom:1851,xZero:2416,xUnit:59,yZero:1847,yUnit:59,xLabelY:1878,yLabelX:2025,xTitleX:2408,xTitleY:1902,yTitleX:1988,yTitleY:1552},
  confinedXTicks, confinedYTicks, 0.5, 'confined');
drawPanel('confined-v-mode2', confinedVMode2Values,
  {left:2937,right:3676,top:1311,bottom:1855,xZero:3314,xUnit:59.5,yZero:1852,yUnit:59.5,xLabelY:1881,yLabelX:2921,xTitleX:3305,xTitleY:1908,yTitleX:2882,yTitleY:1554},
  confinedXTicks, confinedYTicks, 0.5, 'confined');
</script>
</body>
</html>
